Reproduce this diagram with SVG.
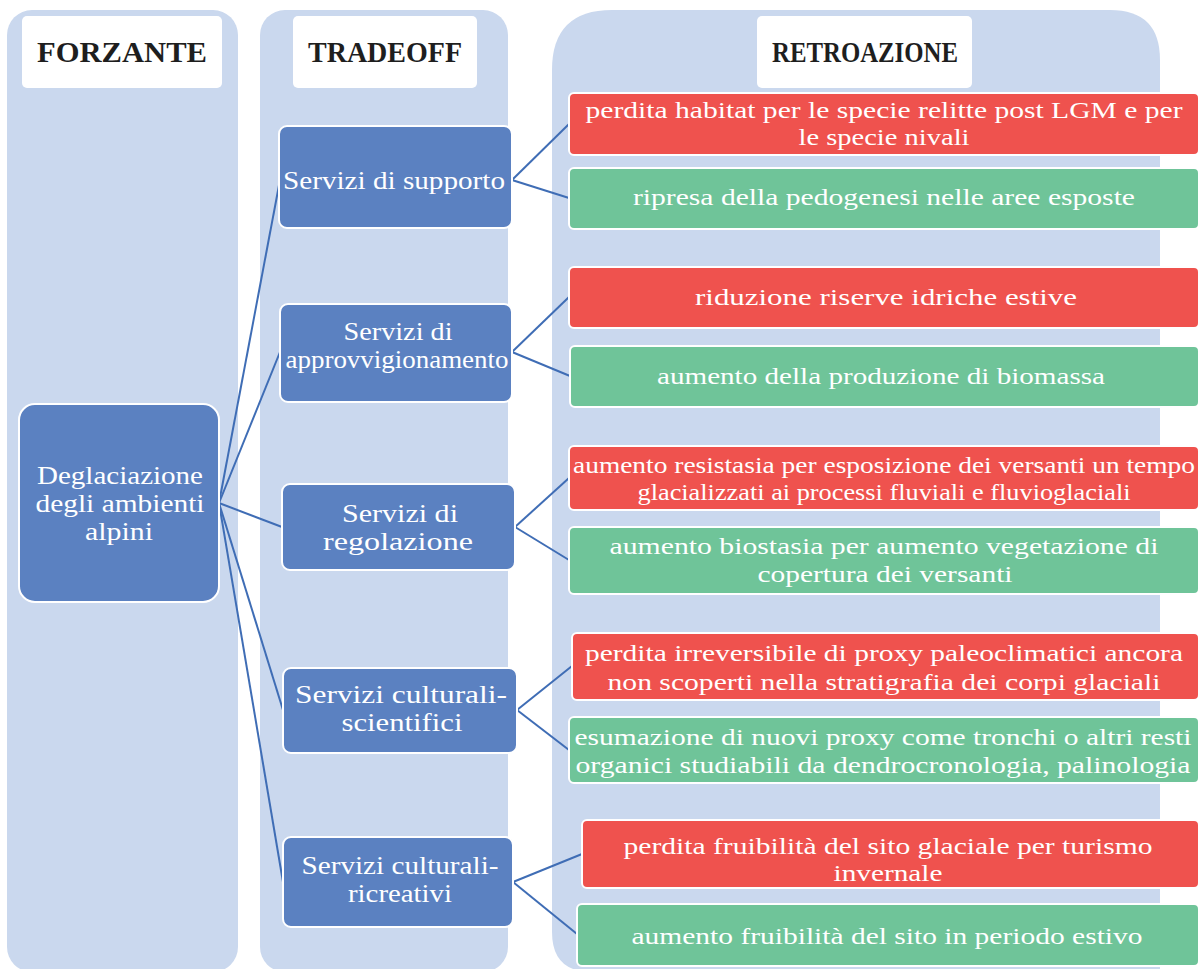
<svg xmlns="http://www.w3.org/2000/svg" width="1200" height="969" viewBox="0 0 1200 969">
<style>
.col{fill:#cad8ee}
.hdr{fill:#ffffff}
.ht{font-family:"Liberation Serif","DejaVu Serif",serif;font-weight:bold;font-size:29px;fill:#1e1e1e;text-anchor:middle}
.blue{fill:#5b81c1;stroke:#ffffff;stroke-width:2}
.red{fill:#ef524e;stroke:#ffffff;stroke-width:2}
.green{fill:#6fc499;stroke:#ffffff;stroke-width:2}
.t{font-family:"Liberation Serif","DejaVu Serif",serif;fill:#ffffff;text-anchor:middle}
.tn{font-size:25px}
.tr{font-size:24px}
.con{stroke:#3f6db5;stroke-width:2;fill:none}
</style>
<rect width="1200" height="969" fill="#ffffff"/>
<g id="columns">
<rect class="col" x="7" y="10" width="231" height="962" rx="25"/>
<rect class="col" x="260" y="10" width="248" height="962" rx="25"/>
<path class="col" d="M552 70 Q552 10 612 10 L1110 10 Q1160 10 1160 60 L1160 972 L592 972 Q552 972 552 932 Z"/>
</g>
<g id="hdr-forzante"><rect class="hdr" x="22" y="16" width="200" height="72" rx="5"/><text class="ht" x="122" y="62" textLength="170" lengthAdjust="spacingAndGlyphs">FORZANTE</text></g>
<g id="hdr-tradeoff"><rect class="hdr" x="293" y="16" width="184" height="72" rx="5"/><text class="ht" x="385" y="62" textLength="154" lengthAdjust="spacingAndGlyphs">TRADEOFF</text></g>
<g id="hdr-retroazione"><rect class="hdr" x="757" y="16" width="215" height="72" rx="5"/><text class="ht" x="865" y="62" textLength="186" lengthAdjust="spacingAndGlyphs">RETROAZIONE</text></g>
<g id="connectors">
<line class="con" x1="219" y1="503" x2="280" y2="180"/>
<line class="con" x1="219" y1="503" x2="280" y2="352"/>
<line class="con" x1="219" y1="503" x2="282" y2="527"/>
<line class="con" x1="219" y1="503" x2="283" y2="710"/>
<line class="con" x1="219" y1="503" x2="283" y2="882"/>
<line class="con" x1="512" y1="180" x2="569" y2="124"/>
<line class="con" x1="512" y1="180" x2="569" y2="198"/>
<line class="con" x1="512" y1="352" x2="569" y2="297"/>
<line class="con" x1="512" y1="352" x2="570" y2="376"/>
<line class="con" x1="515" y1="527" x2="569" y2="478"/>
<line class="con" x1="515" y1="527" x2="569" y2="560"/>
<line class="con" x1="517" y1="710" x2="572" y2="666"/>
<line class="con" x1="517" y1="710" x2="569" y2="750"/>
<line class="con" x1="513" y1="882" x2="582" y2="854"/>
<line class="con" x1="513" y1="882" x2="577" y2="934"/>
</g>
<g id="n-deglaciazione"><rect class="blue" x="19" y="404" width="200" height="198" rx="16"/><text class="t tn" x="120" y="484" textLength="166" lengthAdjust="spacingAndGlyphs">Deglaciazione</text><text class="t tn" x="120" y="512" textLength="169" lengthAdjust="spacingAndGlyphs">degli ambienti</text><text class="t tn" x="119" y="540" textLength="68" lengthAdjust="spacingAndGlyphs">alpini</text></g>
<g id="n-supporto"><rect class="blue" x="279" y="126" width="233" height="102" rx="8"/><text class="t tn" x="394" y="189" textLength="222" lengthAdjust="spacingAndGlyphs">Servizi di supporto</text></g>
<g id="n-approvvigionamento"><rect class="blue" x="280" y="304" width="232" height="98" rx="8"/><text class="t tn" x="398" y="340" textLength="109" lengthAdjust="spacingAndGlyphs">Servizi di</text><text class="t tn" x="397" y="368" textLength="223" lengthAdjust="spacingAndGlyphs">approvvigionamento</text></g>
<g id="n-regolazione"><rect class="blue" x="282" y="484" width="233" height="86" rx="8"/><text class="t tn" x="400" y="522" textLength="116" lengthAdjust="spacingAndGlyphs">Servizi di</text><text class="t tn" x="398" y="550" textLength="150" lengthAdjust="spacingAndGlyphs">regolazione</text></g>
<g id="n-scientifici"><rect class="blue" x="283" y="668" width="234" height="85" rx="8"/><text class="t tn" x="401" y="703" textLength="212" lengthAdjust="spacingAndGlyphs">Servizi culturali-</text><text class="t tn" x="402" y="731" textLength="121" lengthAdjust="spacingAndGlyphs">scientifici</text></g>
<g id="n-ricreativi"><rect class="blue" x="283" y="837" width="230" height="90" rx="8"/><text class="t tn" x="400" y="874" textLength="197" lengthAdjust="spacingAndGlyphs">Servizi culturali-</text><text class="t tn" x="400" y="902" textLength="104" lengthAdjust="spacingAndGlyphs">ricreativi</text></g>
<g id="r1"><rect class="red" x="569" y="93" width="630" height="62" rx="5"/><text class="t tr" x="884" y="118" textLength="597" lengthAdjust="spacingAndGlyphs">perdita habitat per le specie relitte post LGM e per</text><text class="t tr" x="884" y="145" textLength="171" lengthAdjust="spacingAndGlyphs">le specie nivali</text></g>
<g id="r2"><rect class="green" x="569" y="168" width="630" height="61" rx="5"/><text class="t tr" x="884" y="205" textLength="502" lengthAdjust="spacingAndGlyphs">ripresa della pedogenesi nelle aree esposte</text></g>
<g id="r3"><rect class="red" x="569" y="267" width="630" height="61" rx="5"/><text class="t tr" x="886" y="305" textLength="382" lengthAdjust="spacingAndGlyphs">riduzione riserve idriche estive</text></g>
<g id="r4"><rect class="green" x="570" y="346" width="629" height="61" rx="5"/><text class="t tr" x="881" y="384" textLength="448" lengthAdjust="spacingAndGlyphs">aumento della produzione di biomassa</text></g>
<g id="r5"><rect class="red" x="569" y="446" width="630" height="64" rx="5"/><text class="t tr" x="884" y="473" textLength="622" lengthAdjust="spacingAndGlyphs">aumento resistasia per esposizione dei versanti un tempo</text><text class="t tr" x="884" y="500" textLength="493" lengthAdjust="spacingAndGlyphs">glacializzati ai processi fluviali e fluvioglaciali</text></g>
<g id="r6"><rect class="green" x="569" y="527" width="630" height="67" rx="5"/><text class="t tr" x="884" y="554" textLength="549" lengthAdjust="spacingAndGlyphs">aumento biostasia per aumento vegetazione di</text><text class="t tr" x="885" y="582" textLength="255" lengthAdjust="spacingAndGlyphs">copertura dei versanti</text></g>
<g id="r7"><rect class="red" x="572" y="633" width="627" height="67" rx="5"/><text class="t tr" x="884" y="661" textLength="598" lengthAdjust="spacingAndGlyphs">perdita irreversibile di proxy paleoclimatici ancora</text><text class="t tr" x="884" y="690" textLength="553" lengthAdjust="spacingAndGlyphs">non scoperti nella stratigrafia dei corpi glaciali</text></g>
<g id="r8"><rect class="green" x="569" y="717" width="630" height="66" rx="5"/><text class="t tr" x="883" y="745" textLength="617" lengthAdjust="spacingAndGlyphs">esumazione di nuovi proxy come tronchi o altri resti</text><text class="t tr" x="883" y="773" textLength="615" lengthAdjust="spacingAndGlyphs">organici studiabili da dendrocronologia, palinologia</text></g>
<g id="r9"><rect class="red" x="582" y="820" width="617" height="68" rx="5"/><text class="t tr" x="888" y="854" textLength="529" lengthAdjust="spacingAndGlyphs">perdita fruibilità del sito glaciale per turismo</text><text class="t tr" x="888" y="881" textLength="109" lengthAdjust="spacingAndGlyphs">invernale</text></g>
<g id="r10"><rect class="green" x="577" y="904" width="622" height="62" rx="5"/><text class="t tr" x="887" y="944" textLength="511" lengthAdjust="spacingAndGlyphs">aumento fruibilità del sito in periodo estivo</text></g>
</svg>
